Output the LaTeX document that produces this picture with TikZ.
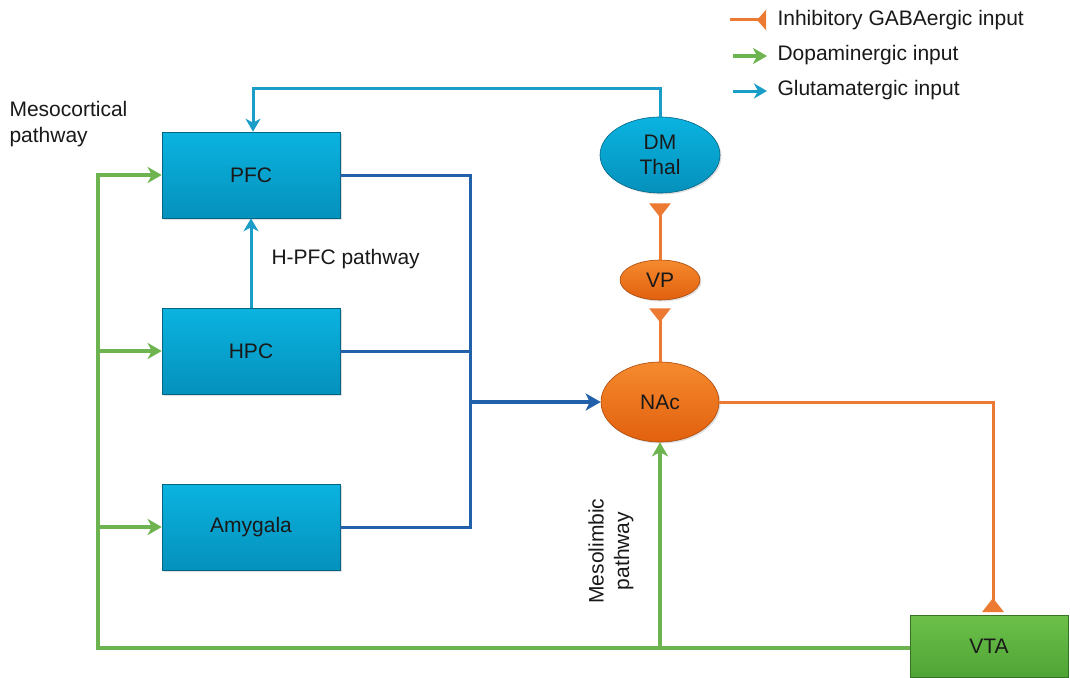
\documentclass[tikz,border=0pt]{standalone}
\usepackage{fontspec}
\setmainfont{Liberation Sans}
\usetikzlibrary{arrows.meta,calc,shapes.geometric,shadows}
\definecolor{boxtop}{HTML}{0BB3E0}
\definecolor{boxbot}{HTML}{0591BC}
\definecolor{orgtop}{HTML}{F58A2E}
\definecolor{orgbot}{HTML}{E2600E}
\definecolor{orgline}{HTML}{EC7A33}
\definecolor{grn}{HTML}{6DB34F}
\definecolor{grntop}{HTML}{6CC04A}
\definecolor{grnbot}{HTML}{4FA435}
\definecolor{blu}{HTML}{2261A9}
\definecolor{glu}{HTML}{1A9DC7}
\tikzset{
  txt/.style={font=\fontsize{21}{25.5}\selectfont, text=black!90},
  cbox/.style={txt, rectangle, minimum width=178pt, minimum height=86pt, top color=boxtop, bottom color=boxbot, draw=boxbot!70!black, line width=0.6pt, drop shadow={opacity=0.25, shadow xshift=1.5pt, shadow yshift=-1.5pt}},
  cell/.style={txt, ellipse, top color=boxtop, bottom color=boxbot, draw=boxbot!70!black, line width=0.6pt, inner sep=0pt, drop shadow={opacity=0.25, shadow xshift=1.5pt, shadow yshift=-1.5pt}},
  oell/.style={txt, ellipse, top color=orgtop, bottom color=orgbot, draw=orgbot!75!black, line width=0.6pt, inner sep=0pt, drop shadow={opacity=0.25, shadow xshift=1.5pt, shadow yshift=-1.5pt}},
  gbox/.style={txt, rectangle, top color=grntop, bottom color=grnbot, draw=grnbot!70!black, line width=0.6pt, minimum width=158pt, minimum height=62pt},
  glut/.style={glu, line width=3pt, -{Stealth[length=13pt, width=15pt, inset=4pt]}},
  blin/.style={blu, line width=3pt},
  dop/.style={grn, line width=4pt, -{Stealth[length=14pt, width=16pt, inset=4pt]}},
  inh/.style={orgline, line width=3pt, -{Triangle[reversed, length=14pt, width=21pt]}},
}
\begin{document}
\begin{tikzpicture}[x=1pt,y=-1pt]
\useasboundingbox (0,0) rectangle (1070,677);
\clip (0,0) rectangle (1070,677);
\fill[white] (0,0) rectangle (1070,677);

% nodes
\node[cbox] (pfc) at (251,175) {PFC};
\node[cbox] (hpc) at (251,351) {HPC};
\node[cbox] (amy) at (251,527) {Amygala};
\node[cell, minimum width=120pt, minimum height=76pt, align=center] (dm) at (660,155) {DM\\Thal};
\node[oell, minimum width=80pt, minimum height=40pt] (vp) at (660,280) {VP};
\node[oell, minimum width=118pt, minimum height=80pt] (nac) at (660,402) {NAc};
\node[gbox] (vta) at (989,646) {VTA};

% labels
\node[txt, anchor=west, align=left] (meso) at (6,124) {Mesocortical\\pathway};
\node[txt, anchor=west] (hpfc) at (268,259) {H-PFC pathway};
\node[txt, rotate=90, align=center] (limb) at (611,551) {Mesolimbic\\pathway};

% glutamatergic
\coordinate (g1) at (660,88);
\coordinate (g2) at (253,88);
\draw[glut] (dm.north) -- (g1) -- (g2) -- (pfc.north -| g2);
\draw[glut] (hpc.north) -- (pfc.south);

% blue convergence
\coordinate (j) at (470,402);
\draw[blin] (pfc.east) -| (j);
\draw[blin] (hpc.east) -| (j);
\draw[blin] (amy.east) -| (j);
\draw[blu, line width=4.5pt, -{Stealth[length=15pt, width=17pt, inset=4pt]}] (j) -- (nac.west);

% inhibitory
\draw[inh] (vp.north) -- ($(dm.south)+(0,10)$);
\draw[inh] (nac.north) -- ($(vp.south)+(0,8)$);
\coordinate (t1) at (993,612);
\draw[inh] (nac.east) -| (t1);

% dopaminergic
\coordinate (c1) at (98,648);
\coordinate (c2) at (98,175);
\draw[dop] (vta.west |- c1) -- (c1) -- (c2) -- (pfc.west);
\draw[dop] (c1 |- hpc.west) -- (hpc.west);
\draw[dop] (c1 |- amy.west) -- (amy.west);
\draw[dop] (nac.south |- c1) -- (nac.south);

% legend
\coordinate (l1a) at (730,20); \coordinate (l1b) at (766,20);
\coordinate (l2a) at (733,56); \coordinate (l2b) at (767,56);
\coordinate (l3a) at (733,91); \coordinate (l3b) at (767,91);
\draw[orgline, line width=3pt, -{Triangle[reversed, length=9pt, width=20pt]}] (l1a) -- (l1b);
\draw[dop] (l2a) -- (l2b);
\draw[glut] (l3a) -- (l3b);
\node[txt, anchor=west] (lg1) at (774,20) {Inhibitory GABAergic input};
\node[txt, anchor=west] (lg2) at (774,55) {Dopaminergic input};
\node[txt, anchor=west] (lg3) at (774,90) {Glutamatergic input};
\end{tikzpicture}
\end{document}
